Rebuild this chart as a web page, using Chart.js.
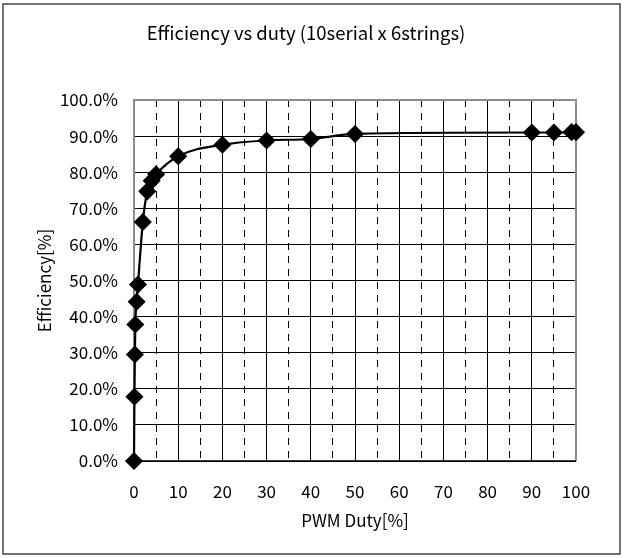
<!DOCTYPE html>
<html>
<head>
<meta charset="utf-8">
<script src="https://cdn.jsdelivr.net/npm/chart.js@4"></script>
<style>
  html, body { margin: 0; padding: 0; background: #fff; }
</style>
</head>
<body>
<canvas id="grafikEfisiensi" width="625" height="558"></canvas>
<script>
// data
const duty = [0, 0.1, 0.2, 0.3, 0.6, 0.9, 2, 3, 4, 5, 10, 20, 30, 40, 50, 90, 95, 99, 100];
const efisiensi = [0, 17.8, 29.5, 37.8, 44.1, 48.9, 66.2, 74.7, 77.6, 79.4, 84.4, 87.6, 88.8, 89.2, 90.6, 91.0, 91.0, 91.1, 91.1];
const judul = "Efficiency vs duty (10serial x 6strings)";
const labelX = "PWM Duty[%]";
const labelY = "Efficiency[%]";

const FONT = "'Noto Sans CJK JP', 'DejaVu Sans', sans-serif";

// bingkai luar, bingkai area plot, dan judul (di tengah bingkai luar)
const bingkai = {
  id: "bingkai",
  beforeDraw(chart) {
    const c = chart.ctx;
    c.save();
    c.fillStyle = "#fff";
    c.fillRect(0, 0, chart.width, chart.height);
    c.strokeStyle = "#444";
    c.lineWidth = 1.5;
    c.strokeRect(3, 4, 617, 550);
    c.fillStyle = "#000";
    c.font = "18.5px " + FONT;
    c.textAlign = "center";
    c.textBaseline = "middle";
    c.fillText(judul, 306, 33);
    c.restore();
  },
  beforeDatasetsDraw(chart) {
    const a = chart.chartArea;
    const c = chart.ctx;
    c.save();
    c.strokeStyle = "#8c8c8c";
    c.lineWidth = 2;
    c.beginPath();
    c.moveTo(a.left, a.bottom);
    c.lineTo(a.left, a.top);
    c.lineTo(a.right, a.top);
    c.lineTo(a.right, a.bottom);
    c.stroke();
    c.strokeStyle = "#000";
    c.lineWidth = 1.5;
    c.beginPath();
    c.moveTo(a.left, a.bottom);
    c.lineTo(a.right, a.bottom);
    c.stroke();
    c.restore();
  },
};

const ctx = document.getElementById("grafikEfisiensi").getContext("2d");
new Chart(ctx, {
  type: "line",
  data: {
    datasets: [
      {
        data: duty.map((d, i) => ({ x: d, y: efisiensi[i] })),
        borderColor: "#000",
        backgroundColor: "#000",
        borderWidth: 2.2,
        pointStyle: "rectRot",
        pointRadius: 7.5,
        pointHoverRadius: 7.5,
        cubicInterpolationMode: "monotone",
        clip: false,
        fill: false,
      },
    ],
  },
  options: {
    responsive: false,
    animation: false,
    devicePixelRatio: 1,
    layout: { padding: { left: 0, right: 49, top: 100, bottom: 0 } },
    plugins: {
      legend: { display: false },
      tooltip: { enabled: false },
      title: { display: false },
    },
    scales: {
      x: {
        type: "linear",
        min: 0,
        max: 100,
        ticks: {
          stepSize: 5,
          autoSkip: false,
          maxRotation: 0,
          color: "#000",
          padding: 20,
          font: { family: FONT, size: 17 },
          callback: (v) => (v % 10 === 0 ? String(v) : ""),
        },
        grid: { color: "#000", lineWidth: 1, drawTicks: false },
        border: {
          display: false,
          dash: (c) => (c.tick && c.tick.value % 10 !== 0 ? [7, 6] : []),
        },
        title: {
          display: true,
          text: labelX,
          color: "#000",
          font: { family: FONT, size: 17 },
          padding: { top: 0, bottom: 27 },
        },
        afterFit: (s) => { s.height = 97; },
      },
      y: {
        min: 0,
        max: 100,
        ticks: {
          stepSize: 10,
          color: "#000",
          padding: 16,
          font: { family: FONT, size: 17 },
          callback: (v) => v.toFixed(1) + "%",
        },
        grid: { color: "#000", lineWidth: 1, drawTicks: false },
        border: { display: false },
        title: {
          display: true,
          text: labelY,
          color: "#000",
          font: { family: FONT, size: 17 },
          padding: { top: 34, bottom: 0 },
        },
        afterFit: (s) => { s.width = 134; },
      },
    },
  },
  plugins: [bingkai],
});
</script>
</body>
</html>
